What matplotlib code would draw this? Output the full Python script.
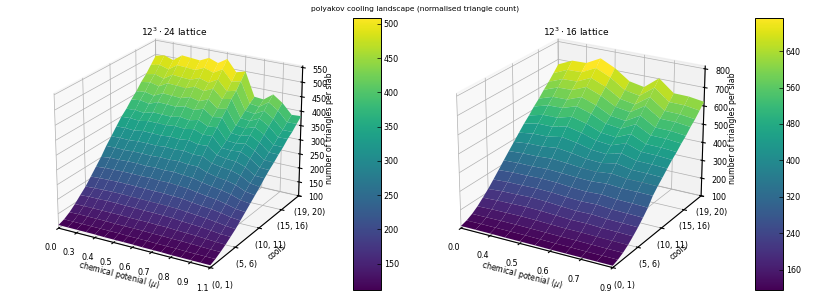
import matplotlib
matplotlib.use("Agg")
import matplotlib.pyplot as plt
import numpy as np

# cooling slabs on the y axis
COOL_LABELS = ["(0, 1)", "(5, 6)", "(10, 11)", "(15, 16)", "(19, 20)"]
COOL_TICKS = [0, 5, 10, 15, 19]

MU_LABELS_24 = ["0.0", "0.3", "0.4", "0.5", "0.6", "0.7", "0.8", "0.9", "1.1"]
MU_LABELS_16 = ["0.0", "0.4", "0.5", "0.6", "0.7", "0.9"]

# triangles per slab, one row per cooling slab, one column per mu
COUNTS_24 = [
    [111, 111, 111, 111, 111, 110, 110, 110, 110, 109, 109, 109, 108, 108, 108, 108, 108],
    [118, 118, 118, 118, 118, 118, 118, 117, 117, 117, 116, 116, 116, 115, 115, 115, 115],
    [130, 131, 131, 131, 131, 130, 130, 130, 130, 129, 129, 128, 128, 127, 126, 125, 125],
    [146, 147, 147, 147, 147, 147, 146, 146, 146, 145, 145, 143, 142, 141, 139, 137, 136],
    [165, 167, 167, 168, 168, 167, 167, 166, 166, 165, 164, 161, 159, 157, 154, 150, 149],
    [183, 185, 186, 187, 187, 186, 186, 185, 185, 184, 183, 180, 177, 174, 170, 165, 162],
    [206, 208, 209, 210, 210, 209, 209, 208, 208, 206, 205, 200, 196, 193, 188, 181, 178],
    [229, 232, 233, 234, 234, 233, 234, 232, 233, 230, 228, 222, 217, 213, 206, 197, 194],
    [252, 256, 256, 258, 258, 256, 258, 256, 258, 254, 252, 244, 238, 233, 226, 214, 210],
    [279, 280, 279, 281, 281, 280, 282, 281, 283, 279, 279, 266, 258, 254, 246, 231, 226],
    [302, 303, 302, 305, 305, 304, 307, 305, 308, 302, 303, 286, 280, 276, 266, 247, 242],
    [326, 327, 325, 330, 329, 328, 331, 329, 333, 325, 327, 303, 297, 295, 283, 261, 260],
    [349, 351, 348, 354, 354, 353, 357, 354, 360, 348, 350, 316, 314, 317, 301, 277, 276],
    [367, 369, 365, 374, 373, 372, 378, 373, 381, 365, 369, 330, 328, 333, 316, 291, 290],
    [389, 393, 387, 399, 398, 396, 404, 398, 409, 387, 392, 345, 342, 352, 333, 306, 306],
    [408, 412, 405, 420, 418, 416, 426, 418, 431, 405, 411, 360, 357, 368, 349, 320, 320],
    [431, 436, 428, 445, 443, 440, 452, 443, 458, 428, 435, 375, 372, 387, 367, 336, 337],
    [449, 455, 445, 465, 462, 460, 472, 462, 479, 445, 453, 390, 386, 403, 382, 350, 350],
    [472, 478, 468, 489, 487, 484, 498, 487, 505, 468, 476, 404, 400, 422, 400, 366, 367],
    [495, 502, 491, 514, 511, 508, 523, 511, 531, 491, 500, 418, 415, 439, 416, 381, 383],
]

COUNTS_16 = [
    [112, 112, 112, 111, 111, 111, 110, 110, 110, 110, 110],
    [122, 123, 123, 123, 123, 122, 121, 121, 120, 120, 120],
    [138, 139, 140, 140, 139, 138, 137, 137, 136, 135, 135],
    [160, 163, 164, 165, 164, 161, 159, 159, 157, 156, 155],
    [188, 192, 194, 196, 194, 190, 186, 187, 183, 182, 180],
    [217, 223, 225, 228, 225, 219, 214, 216, 211, 209, 207],
    [250, 255, 256, 258, 256, 250, 246, 249, 242, 240, 238],
    [284, 289, 290, 293, 290, 283, 279, 283, 276, 274, 271],
    [319, 323, 323, 327, 323, 318, 316, 322, 316, 316, 315],
    [353, 358, 359, 365, 359, 351, 348, 358, 348, 348, 346],
    [386, 395, 396, 406, 396, 382, 378, 394, 378, 377, 374],
    [420, 432, 433, 448, 434, 414, 408, 431, 408, 407, 403],
    [453, 470, 470, 489, 471, 446, 438, 467, 438, 437, 431],
    [482, 502, 503, 525, 504, 472, 464, 499, 462, 461, 455],
    [515, 538, 540, 566, 541, 504, 494, 535, 492, 491, 483],
    [543, 569, 570, 600, 571, 530, 519, 565, 517, 516, 507],
    [576, 605, 607, 639, 608, 563, 550, 601, 548, 547, 537],
    [605, 636, 638, 674, 640, 590, 576, 632, 574, 572, 562],
    [638, 672, 674, 713, 676, 622, 607, 668, 605, 604, 592],
    [672, 708, 710, 751, 712, 655, 639, 703, 637, 635, 623],
]

W, H = 830, 308


def px_rect(left, top, right, bottom):
    return [left / W, 1 - bottom / H, (right - left) / W, (bottom - top) / H]


def plot_panel(fig, rect, cbar_rect, counts, mu_labels, zticks, zlim, cbar_ticks, title, title_px):
    z = np.array(counts, dtype=float)
    x, y = np.meshgrid(np.arange(z.shape[1]), np.arange(z.shape[0]))

    ax = fig.add_axes(px_rect(*rect), projection="3d")
    ax.view_init(elev=22.5, azim=-60)
    ax.set_box_aspect((4, 4.4, 3.32))
    surf = ax.plot_surface(x, y, z, cmap="viridis", rstride=1, cstride=1, linewidth=0)
    ax.set_xlim(0, z.shape[1] - 1)
    ax.set_ylim(0, 19)
    ax.set_zlim(*zlim)
    ax.set_xticks(np.arange(z.shape[1])[::2])
    ax.set_xticklabels(mu_labels)
    ax.set_yticks(COOL_TICKS)
    ax.set_yticklabels(COOL_LABELS)
    ax.set_zticks(zticks)
    ax.tick_params(labelsize=5.8, pad=0, length=2, width=0.5)
    ax.set_xlabel(r"chemical potenial ($\mu$)", fontsize=5.6, labelpad=-7, rotation=-17)
    ax.set_ylabel("cools", fontsize=5.6, labelpad=-7, rotation=40)
    ax.zaxis.set_rotate_label(False)
    ax.set_zlabel("number of triangles per slab", fontsize=5.6, labelpad=-7.5, rotation=90)
    for axis in (ax.xaxis, ax.yaxis, ax.zaxis):
        axis._axinfo["grid"]["linewidth"] = 0.5
        axis._axinfo["axisline"]["linewidth"] = 0.6
    fig.text(title_px[0] / W, 1 - title_px[1] / H, title, fontsize=6.5, ha="center", va="center")

    cax = fig.add_axes(px_rect(*cbar_rect))
    cb = fig.colorbar(surf, cax=cax)
    cb.set_ticks(cbar_ticks)
    cb.ax.tick_params(labelsize=5.8, direction="in", length=3, width=0.5, pad=2)
    cb.outline.set_linewidth(0.7)


def main():
    fig = plt.figure(figsize=(W / 100, H / 100), dpi=100)
    fig.text(415 / W, 1 - 9 / H, "polyakov cooling landscape (normalised triangle count)",
             fontsize=5.4, ha="center", va="center")
    plot_panel(fig, (35, 8, 320, 293), (353, 18, 381, 290), COUNTS_24, MU_LABELS_24,
               np.arange(100, 551, 50), (100, 555), np.arange(150, 501, 50),
               r"$12^3 \cdot 24$ lattice", (174, 32))
    plot_panel(fig, (437.5, 8, 722.5, 293), (755, 18, 783, 290), COUNTS_16, MU_LABELS_16,
               np.arange(100, 801, 100), (100, 815), np.arange(160, 641, 80),
               r"$12^3 \cdot 16$ lattice", (576, 32))
    fig.savefig("out.png", dpi=100)
    plt.close(fig)


if __name__ == "__main__":
    main()
